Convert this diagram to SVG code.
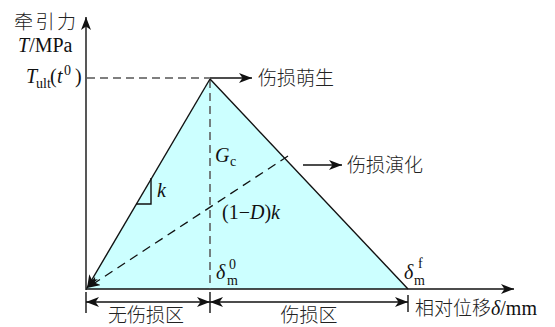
<svg xmlns="http://www.w3.org/2000/svg" width="555" height="327" viewBox="0 0 555 327">
<style>
.cn{font-family:"Noto Sans CJK SC","Noto Sans CJK JP",sans-serif;font-size:19px;fill:#222;font-weight:300}
.lt{font-family:"Liberation Serif",serif;font-size:20px;fill:#111}
.it{font-style:italic}
.sm{font-size:14px}
.ln{stroke:#111;stroke-width:1.4;fill:none}
.gd{stroke:#555;stroke-width:1.5;fill:none;stroke-dasharray:8,5}
.bd{stroke:#111;stroke-width:1.3;fill:none;stroke-dasharray:9,6}
</style>
<defs>
<marker id="ah" markerUnits="userSpaceOnUse" markerWidth="14" markerHeight="10" refX="13" refY="5" orient="auto">
<path d="M0,0 L13,5 L0,10 L3.5,5 Z" fill="#111"/>
</marker>
</defs>
<g id="region">
<polygon points="86,289 210,79 408,289" fill="#ccffff" stroke="none"/>
</g>
<g id="connectors">
<line class="ln" x1="86" y1="290" x2="86" y2="17" marker-end="url(#ah)"/>
<line class="ln" x1="86" y1="289" x2="514" y2="289" marker-end="url(#ah)"/>
<line class="gd" x1="87" y1="78" x2="210" y2="78"/>
<line class="gd" x1="210" y1="80" x2="210" y2="289"/>
<line class="ln" x1="210" y1="79" x2="408" y2="289"/>
<line class="ln" x1="210" y1="79" x2="87" y2="288" marker-end="url(#ah)"/>
<line class="bd" x1="288" y1="156" x2="87" y2="288" marker-end="url(#ah)"/>
<line class="ln" x1="210" y1="78" x2="252" y2="78" marker-end="url(#ah)"/>
<line class="ln" x1="303" y1="165" x2="342" y2="165" marker-end="url(#ah)"/>
<polyline class="ln" points="136,204 151,204 151,178" stroke-width="1.1"/>
<line class="ln" x1="86" y1="292" x2="86" y2="313" stroke="#555"/>
<line class="ln" x1="210" y1="292" x2="210" y2="313" stroke="#555"/>
<line class="ln" x1="408" y1="295" x2="408" y2="312"/>
<line class="ln" x1="148" y1="302" x2="86" y2="302" marker-end="url(#ah)"/>
<line class="ln" x1="148" y1="302" x2="210" y2="302" marker-end="url(#ah)"/>
<line class="ln" x1="309" y1="302" x2="210" y2="302" marker-end="url(#ah)"/>
<line class="ln" x1="309" y1="302" x2="408" y2="302" marker-end="url(#ah)"/>
</g>
<g id="labels">
<text class="cn" x="14" y="29" textLength="62">牵引力</text>
<text class="lt" x="18" y="52"><tspan class="it">T</tspan>/MPa</text>
<text class="lt"><tspan class="it" x="26" y="83">T</tspan><tspan class="sm" x="36" y="88">ult</tspan><tspan x="50" y="83">(</tspan><tspan class="it" x="57" y="83">t</tspan><tspan class="sm" x="64" y="75">0</tspan><tspan x="75" y="83">)</tspan></text>
<text class="cn" x="258" y="85">伤损萌生</text>
<text class="cn" x="347" y="172">伤损演化</text>
<text class="lt"><tspan class="it" x="215" y="162">G</tspan><tspan class="sm" x="230" y="166">c</tspan></text>
<text class="lt it" x="157" y="197">k</text>
<text class="lt" x="222" y="219">(1−<tspan class="it">D</tspan>)<tspan class="it">k</tspan></text>
<text class="lt"><tspan class="it" x="216" y="279">δ</tspan><tspan class="sm" x="227" y="285">m</tspan><tspan class="sm" x="229" y="269">0</tspan></text>
<text class="lt"><tspan class="it" x="404" y="279">δ</tspan><tspan class="sm" x="414" y="285">m</tspan><tspan class="sm" x="418" y="268">f</tspan></text>
<text class="cn" x="146" y="322" text-anchor="middle">无伤损区</text>
<text class="cn" x="309" y="322" text-anchor="middle">伤损区</text>
<text x="415" y="315"><tspan class="cn">相对位移</tspan><tspan class="lt it">δ</tspan><tspan class="lt">/mm</tspan></text>
</g>
</svg>
